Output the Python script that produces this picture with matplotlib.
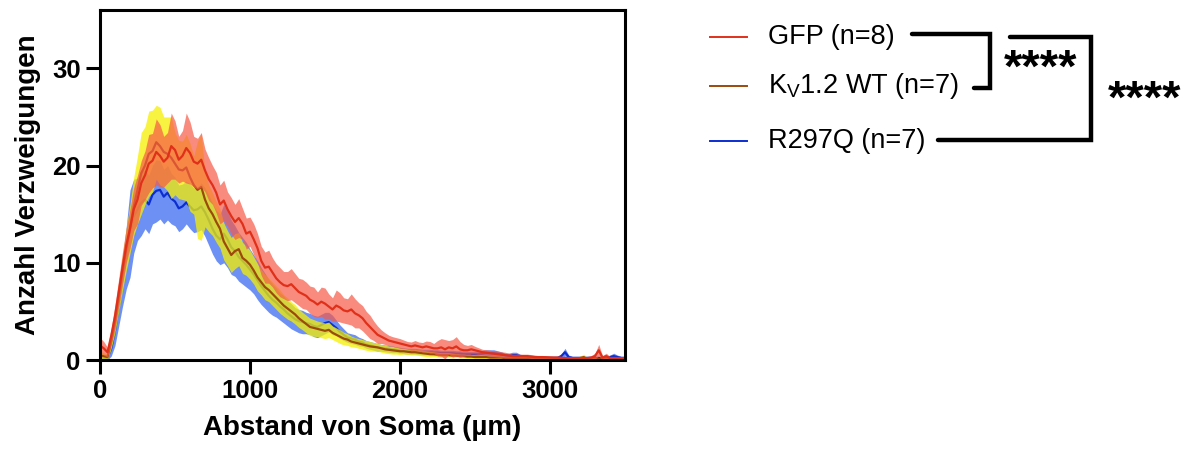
import numpy as np
import matplotlib
matplotlib.use("Agg")
import matplotlib.pyplot as plt
from matplotlib.lines import Line2D

plt.rcParams['font.family'] = ['Liberation Sans', 'DejaVu Sans']
plt.rcParams['mathtext.fontset'] = 'custom'
plt.rcParams['mathtext.rm'] = 'Liberation Sans'

# distance from soma (µm), 25 µm bins (0 ... 3500)
distance = np.arange(0, 3501, 25)

gfp_mean = [1.5, 1.2, 0.8, 2.5, 4.5, 7.0, 9.5, 11.8, 13.5, 15.5, 16.5, 18.2, 19.0, 20.2, 20.5, 21.4, 21.0, 20.4, 20.8, 22.0,
            21.6, 20.6, 21.0, 21.8, 21.3, 20.4, 20.2, 20.6, 19.5, 18.6, 18.0, 17.2, 16.0, 16.4, 15.5, 14.8, 14.2, 14.6, 14.0, 13.0,
            13.2, 12.4, 11.5, 10.2, 9.5, 9.6, 9.0, 8.4, 8.0, 7.7, 7.6, 7.8, 7.4, 7.0, 6.8, 6.6, 6.2, 6.0, 5.7, 6.0,
            5.8, 5.5, 5.2, 5.6, 5.4, 5.1, 5.0, 5.2, 4.8, 4.6, 4.3, 3.8, 3.4, 3.0, 2.6, 2.4, 2.2, 2.0, 1.9, 1.8,
            1.7, 1.6, 1.5, 1.4, 1.5, 1.4, 1.3, 1.4, 1.3, 1.2, 1.2, 1.3, 1.1, 1.3, 1.2, 1.4, 1.1, 1.0, 1.0, 1.1,
            1.0, 0.9, 0.8, 0.75, 0.7, 0.65, 0.6, 0.55, 0.5, 0.45, 0.4, 0.4, 0.4, 0.4, 0.4, 0.35, 0.3, 0.3, 0.3, 0.28,
            0.25, 0.25, 0.25, 0.22, 0.2, 0.2, 0.2, 0.2, 0.2, 0.2, 0.2, 0.25, 0.4, 1.0, 0.25, 0.4, 0.2, 0.2, 0.2, 0.2,
            0.2]
gfp_sem = [0.8, 0.7, 0.5, 0.8, 1.2, 1.4, 1.6, 1.8, 2.0, 2.2, 2.5, 2.3, 2.5, 3.0, 2.8, 3.4, 3.2, 2.6, 2.6, 3.4,
           3.0, 2.4, 2.6, 3.6, 3.2, 2.6, 2.6, 2.8, 2.2, 2.2, 2.0, 2.1, 2.0, 2.1, 1.8, 1.9, 1.8, 2.0, 1.6, 1.6,
           1.5, 1.6, 1.5, 1.5, 1.6, 1.7, 1.5, 1.5, 1.5, 1.4, 1.5, 1.6, 1.5, 1.4, 1.5, 1.4, 1.4, 1.5, 1.3, 1.5,
           1.6, 1.3, 1.2, 1.6, 1.5, 1.3, 1.3, 1.6, 1.5, 1.3, 1.3, 1.2, 1.2, 1.0, 0.9, 0.7, 0.6, 0.55, 0.5, 0.5,
           0.5, 0.45, 0.4, 0.45, 0.5, 0.45, 0.5, 0.55, 0.6, 0.5, 0.8, 0.9, 1.0, 0.7, 0.9, 1.0, 0.8, 0.6, 0.5, 0.5,
           0.4, 0.35, 0.3, 0.3, 0.3, 0.3, 0.3, 0.3, 0.3, 0.25, 0.2, 0.2, 0.2, 0.2, 0.2, 0.2, 0.2, 0.15, 0.15, 0.15,
           0.15, 0.15, 0.15, 0.15, 0.15, 0.15, 0.15, 0.15, 0.15, 0.15, 0.15, 0.2, 0.3, 0.6, 0.2, 0.3, 0.15, 0.15, 0.15, 0.15,
           0.15]

kv_mean = [0.5, 0.4, 0.3, 2.0, 4.0, 6.5, 9.0, 11.4, 13.5, 15.8, 17.5, 19.2, 20.0, 21.2, 21.5, 22.4, 22.0, 21.4, 21.2, 20.8,
           20.2, 19.6, 19.5, 19.8, 18.8, 18.0, 17.5, 17.8, 16.5, 15.6, 15.0, 14.2, 13.5, 12.2, 11.5, 10.8, 11.2, 11.4, 10.5, 10.2,
           9.8, 9.2, 8.5, 8.0, 7.5, 7.2, 6.8, 6.4, 6.0, 5.6, 5.3, 5.0, 4.7, 4.3, 4.0, 3.7, 3.4, 3.3, 3.2, 3.1,
           3.0, 3.1, 2.8, 2.6, 2.4, 2.2, 2.1, 1.9, 1.8, 1.7, 1.6, 1.5, 1.4, 1.35, 1.3, 1.2, 1.1, 1.05, 1.0, 0.95,
           0.9, 0.9, 0.85, 0.8, 0.8, 0.75, 0.7, 0.65, 0.6, 0.6, 0.55, 0.5, 0.5, 0.5, 0.45, 0.45, 0.4, 0.4, 0.35, 0.35,
           0.3, 0.3, 0.3, 0.3, 0.25, 0.25, 0.25, 0.25, 0.2, 0.2, 0.2, 0.2, 0.2, 0.2, 0.15, 0.15, 0.15, 0.15, 0.15, 0.15,
           0.1, 0.1, 0.1, 0.1, 0.1, 0.1, 0.1, 0.1, 0.2, 0.3, 0.1, 0.1, 0.1, 0.1, 0.1, 0.1, 0.1, 0.1, 0.1, 0.1,
           0.1]
kv_sem = [0.4, 0.35, 0.3, 0.8, 1.2, 1.5, 1.8, 2.2, 2.5, 3.0, 3.5, 4.2, 4.0, 4.4, 4.2, 3.8, 4.0, 3.6, 3.8, 4.2,
          3.2, 3.0, 3.0, 3.4, 3.5, 3.0, 5.0, 5.5, 2.8, 2.4, 2.2, 2.1, 2.0, 1.9, 1.8, 1.8, 1.8, 1.7, 1.6, 1.5,
          1.5, 1.4, 1.4, 1.3, 1.3, 1.2, 1.2, 1.2, 1.2, 1.1, 1.1, 1.0, 1.0, 0.95, 0.9, 0.9, 0.9, 0.85, 0.8, 0.8,
          0.8, 0.8, 0.7, 0.7, 0.7, 0.65, 0.6, 0.55, 0.5, 0.5, 0.5, 0.5, 0.5, 0.45, 0.4, 0.4, 0.4, 0.4, 0.4, 0.35,
          0.35, 0.3, 0.3, 0.3, 0.3, 0.3, 0.3, 0.3, 0.3, 0.25, 0.25, 0.25, 0.25, 0.25, 0.25, 0.2, 0.2, 0.2, 0.2, 0.2,
          0.2, 0.2, 0.2, 0.2, 0.15, 0.15, 0.15, 0.15, 0.15, 0.15, 0.15, 0.15, 0.1, 0.1, 0.1, 0.1, 0.1, 0.1, 0.1, 0.1,
          0.1, 0.1, 0.1, 0.1, 0.1, 0.1, 0.1, 0.1, 0.2, 0.3, 0.1, 0.1, 0.1, 0.1, 0.1, 0.1, 0.1, 0.1, 0.1, 0.1,
          0.1]

r297q_mean = [0.3, 0.25, 0.2, 1.2, 3.0, 5.5, 8.0, 10.5, 13.0, 14.8, 15.5, 16.2, 16.5, 16.0, 17.0, 17.4, 17.5, 16.8, 17.2, 16.6,
              16.3, 15.6, 15.8, 16.2, 15.8, 15.4, 15.5, 15.8, 15.2, 14.4, 13.5, 12.8, 12.4, 13.0, 12.4, 11.6, 11.2, 10.6, 10.2, 9.8,
              9.3, 8.8, 8.2, 7.6, 7.1, 6.6, 6.2, 5.9, 5.5, 5.2, 4.8, 4.5, 4.2, 4.0, 3.9, 3.8, 3.7, 3.5, 3.4, 3.6,
              3.8, 3.9, 3.6, 3.3, 2.9, 2.6, 2.3, 2.2, 2.1, 1.9, 1.8, 1.6, 1.5, 1.4, 1.3, 1.25, 1.2, 1.15, 1.1, 1.05,
              1.0, 0.95, 0.9, 0.9, 0.9, 0.85, 0.8, 0.8, 0.8, 0.75, 0.75, 0.7, 0.7, 0.7, 0.7, 0.65, 0.65, 0.6, 0.6, 0.6,
              0.6, 0.6, 0.65, 0.7, 0.7, 0.7, 0.65, 0.6, 0.5, 0.45, 0.5, 0.5, 0.4, 0.3, 0.3, 0.25, 0.25, 0.2, 0.2, 0.2,
              0.2, 0.2, 0.2, 0.4, 0.8, 0.3, 0.2, 0.2, 0.2, 0.2, 0.2, 0.2, 0.2, 0.2, 0.2, 0.2, 0.3, 0.4, 0.3, 0.2,
              0.2]
r297q_sem = [0.3, 0.3, 0.3, 0.8, 1.5, 2.0, 2.5, 3.2, 4.5, 3.8, 3.2, 3.4, 3.0, 3.0, 3.0, 3.2, 3.0, 2.8, 2.8, 2.6,
             2.5, 2.4, 2.3, 2.2, 2.3, 2.3, 2.3, 2.4, 2.5, 2.6, 2.6, 2.6, 2.6, 3.0, 2.9, 2.8, 2.6, 2.5, 2.4, 2.3,
             2.1, 2.0, 2.0, 1.9, 1.8, 1.7, 1.6, 1.5, 1.4, 1.4, 1.3, 1.3, 1.2, 1.2, 1.2, 1.1, 1.1, 1.1, 1.1, 1.1,
             1.1, 1.0, 1.0, 0.8, 0.7, 0.6, 0.5, 0.5, 0.5, 0.45, 0.4, 0.4, 0.4, 0.4, 0.4, 0.35, 0.35, 0.35, 0.35, 0.3,
             0.3, 0.3, 0.3, 0.3, 0.3, 0.3, 0.3, 0.3, 0.3, 0.3, 0.3, 0.3, 0.3, 0.3, 0.3, 0.3, 0.3, 0.3, 0.3, 0.3,
             0.3, 0.3, 0.35, 0.35, 0.35, 0.35, 0.3, 0.25, 0.2, 0.25, 0.3, 0.3, 0.2, 0.2, 0.2, 0.2, 0.2, 0.2, 0.2, 0.2,
             0.2, 0.2, 0.2, 0.2, 0.4, 0.2, 0.2, 0.2, 0.2, 0.2, 0.2, 0.2, 0.2, 0.2, 0.2, 0.2, 0.2, 0.3, 0.2, 0.2,
             0.2]

labels = ['GFP (n=8)', r'K$_\mathregular{V}$1.2 WT (n=7)', 'R297Q (n=7)']
line_colors = ['#e0301a', '#9c4a0a', '#0c2ed0']
band_colors = ['#f65a48', '#f6f000', '#3565f0']
band_alpha = [0.7, 0.75, 0.72]

W, H = 1194, 453
fig = plt.figure(figsize=(W / 100, H / 100), dpi=100)
ax = fig.add_axes([100 / W, 1 - 360 / H, 525 / W, 350 / H])

series = [(gfp_mean, gfp_sem), (kv_mean, kv_sem), (r297q_mean, r297q_sem)]
z = 1
for i in [2, 1, 0]:
    m = np.array(series[i][0]); s = np.array(series[i][1])
    ax.fill_between(distance, np.clip(m - s, 0, None), m + s, color=band_colors[i],
                    alpha=band_alpha[i], lw=0, zorder=z)
    ax.plot(distance, m, color=line_colors[i], lw=1.6, zorder=z + 0.5)
    z += 1

ax.set_xlim(0, 3500)
ax.set_ylim(0, 36)
ax.set_xticks([0, 1000, 2000, 3000])
ax.set_yticks([0, 10, 20, 30])
for sp in ax.spines.values():
    sp.set_linewidth(2.2)
    sp.set_zorder(10)
ax.tick_params(width=2.2, length=10, labelsize=18.5, pad=4)
for t in ax.get_xticklabels() + ax.get_yticklabels():
    t.set_fontweight('bold')
ax.set_xlabel('Abstand von Soma (µm)', fontsize=20, fontweight='bold', labelpad=8)
ax.set_ylabel('Anzahl Verzweigungen', fontsize=20, fontweight='bold', labelpad=8)

# legend (manual)
def fx(x):
    return x / W
def fy(y):
    return 1 - y / H

leg_y = [37, 86, 141]
for lab, c, y in zip(labels, line_colors, leg_y):
    fig.add_artist(Line2D([fx(710), fx(747)], [fy(y), fy(y)], color=c, lw=1.4))
    fig.text(fx(768), fy(y), lab, fontsize=19.5, va='center', ha='left')

# significance brackets
bk = dict(color='black', lw=3.2, solid_capstyle='round', solid_joinstyle='miter')
fig.add_artist(Line2D([fx(912), fx(990), fx(990), fx(974)],
                      [fy(34), fy(34), fy(88), fy(88)], **bk))
fig.add_artist(Line2D([fx(1010), fx(1091), fx(1091), fx(938)],
                      [fy(37), fy(37), fy(140), fy(140)], **bk))
fig.text(fx(1041), fy(70), '****', fontsize=34, fontweight='bold', ha='center', va='center')
fig.text(fx(1145), fy(101), '****', fontsize=34, fontweight='bold', ha='center', va='center')

fig.savefig('out.png', dpi=100)
